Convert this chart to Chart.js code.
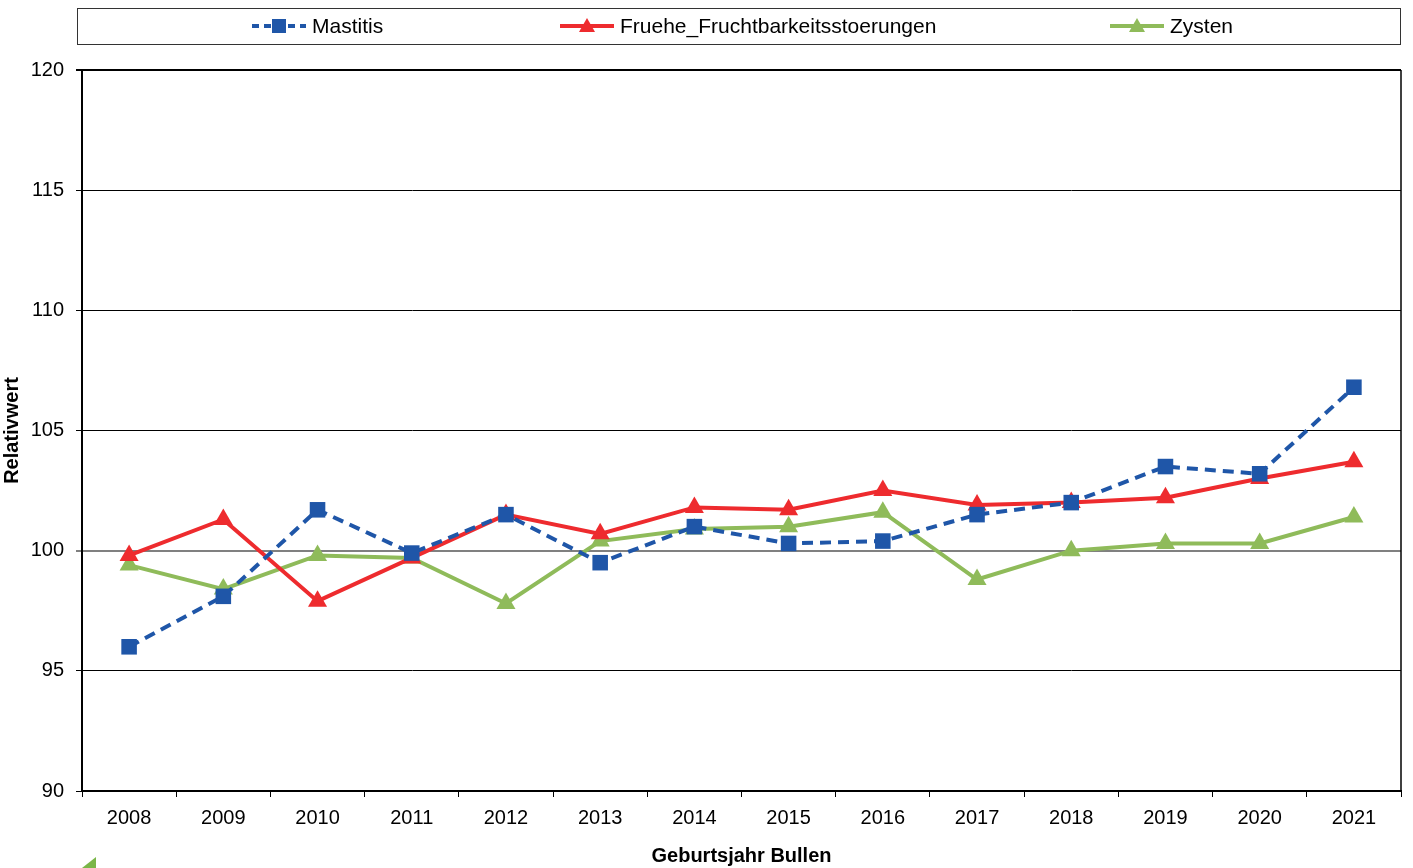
<!DOCTYPE html>
<html>
<head>
<meta charset="utf-8">
<script src="https://cdn.jsdelivr.net/npm/chart.js@4"></script>
<style>
  html, body { margin: 0; padding: 0; background: #fff; }
  #wrap { width: 1413px; height: 868px; }
</style>
</head>
<body>
<div id="wrap"><canvas id="myChart"></canvas></div>
<script>
// Daten
const years = ["2008", "2009", "2010", "2011", "2012", "2013", "2014", "2015", "2016", "2017", "2018", "2019", "2020", "2021"];
const mastitis = [96.0, 98.1, 101.7, 99.9, 101.5, 99.5, 101.0, 100.3, 100.4, 101.5, 102.0, 103.5, 103.2, 106.8];
const fruehe = [99.8, 101.3, 97.9, 99.7, 101.5, 100.7, 101.8, 101.7, 102.5, 101.9, 102.0, 102.2, 103.0, 103.7];
const zysten = [99.4, 98.4, 99.8, 99.7, 97.8, 100.4, 100.9, 101.0, 101.6, 98.8, 100.0, 100.3, 100.3, 101.4];
const seriesNames = ["Mastitis", "Fruehe_Fruchtbarkeitsstoerungen", "Zysten"];

const BLUE = "#1f56a8";
const RED = "#ee2b2e";
const GREEN = "#8fbb5a";
const FONT = "'Liberation Sans', Arial, sans-serif";

// Legende und Rahmen selbst zeichnen
const frame = {
    id: "frame",
    afterDraw(chart) {
        const ctx = chart.ctx;
        const a = chart.chartArea;
        ctx.save();
        // rechter Rand
        ctx.strokeStyle = "#000";
        ctx.lineWidth = 1.5;
        ctx.beginPath();
        ctx.moveTo(a.right, a.top);
        ctx.lineTo(a.right, a.bottom);
        ctx.stroke();

        // Legendenkasten
        ctx.lineWidth = 1;
        ctx.strokeStyle = "#333";
        ctx.strokeRect(77.5, 8.5, 1323, 36);

        const items = [
            { x: 252, color: BLUE, dash: [7, 5], style: "rect" },
            { x: 560, color: RED, dash: [], style: "triangle" },
            { x: 1110, color: GREEN, dash: [], style: "triangle" },
        ];
        const ly = 26;
        ctx.font = "21px " + FONT;
        ctx.textBaseline = "middle";
        items.forEach((it, i) => {
            ctx.strokeStyle = it.color;
            ctx.lineWidth = 4;
            ctx.setLineDash(it.dash);
            ctx.beginPath();
            ctx.moveTo(it.x, ly);
            ctx.lineTo(it.x + 54, ly);
            ctx.stroke();
            ctx.setLineDash([]);
            ctx.fillStyle = it.color;
            const cx = it.x + 27;
            if (it.style === "rect") {
                ctx.fillRect(cx - 7, ly - 7, 14, 14);
            } else {
                ctx.beginPath();
                ctx.moveTo(cx, ly - 8);
                ctx.lineTo(cx + 8, ly + 6);
                ctx.lineTo(cx - 8, ly + 6);
                ctx.closePath();
                ctx.fill();
            }
            ctx.fillStyle = "#000";
            ctx.fillText(seriesNames[i], it.x + 60, ly + 1);
        });

        // abgeschnittenes Logo unten links
        ctx.fillStyle = "#7ab648";
        ctx.beginPath();
        ctx.moveTo(82, 868);
        ctx.lineTo(96, 857);
        ctx.lineTo(96, 868);
        ctx.closePath();
        ctx.fill();
        ctx.restore();
    }
};

function initChart() {
    const ctx = document.getElementById("myChart").getContext("2d");
    new Chart(ctx, {
        type: "line",
        data: {
            labels: years,
            datasets: [
                {
                    label: seriesNames[0],
                    data: mastitis,
                    borderColor: BLUE,
                    backgroundColor: BLUE,
                    borderWidth: 4,
                    borderDash: [11, 7],
                    pointStyle: "rect",
                    pointRadius: 11,
                    pointBorderWidth: 0,
                    tension: 0,
                },
                {
                    label: seriesNames[1],
                    data: fruehe,
                    borderColor: RED,
                    backgroundColor: RED,
                    borderWidth: 4,
                    pointStyle: "triangle",
                    pointRadius: 11,
                    pointBorderWidth: 0,
                    tension: 0,
                },
                {
                    label: seriesNames[2],
                    data: zysten,
                    borderColor: GREEN,
                    backgroundColor: GREEN,
                    borderWidth: 4,
                    pointStyle: "triangle",
                    pointRadius: 11,
                    pointBorderWidth: 0,
                    tension: 0,
                },
            ],
        },
        options: {
            responsive: true,
            maintainAspectRatio: false,
            animation: false,
            layout: { padding: { top: 70, right: 12, left: 0, bottom: 0 } },
            plugins: {
                legend: { display: false },
                tooltip: { enabled: false },
            },
            scales: {
                x: {
                    offset: true,
                    grid: {
                        offset: true,
                        drawOnChartArea: false,
                        drawTicks: true,
                        tickLength: 6,
                        color: "#000",
                    },
                    border: { color: "#000", width: 2 },
                    ticks: {
                        color: "#000",
                        font: { family: FONT, size: 20 },
                        padding: 9,
                        maxRotation: 0,
                    },
                    title: {
                        display: true,
                        text: "Geburtsjahr Bullen",
                        color: "#000",
                        font: { family: FONT, size: 20, weight: "bold" },
                        padding: { top: 10, bottom: 0 },
                    },
                    afterFit(scale) { scale.height = 77; },
                },
                y: {
                    min: 90,
                    max: 120,
                    ticks: {
                        stepSize: 5,
                        color: "#000",
                        font: { family: FONT, size: 20 },
                        padding: 12,
                    },
                    grid: {
                        tickLength: 6,
                        color: (c) => (c.tick && c.tick.value === 100 ? "#808080" : "#000"),
                        lineWidth: (c) => {
                            if (!c.tick) return 1;
                            if (c.tick.value === 100) return 2;
                            if (c.tick.value === 120) return 2;
                            return 1;
                        },
                    },
                    border: { color: "#000", width: 2 },
                    title: {
                        display: true,
                        text: "Relativwert",
                        color: "#000",
                        font: { family: FONT, size: 20, weight: "bold" },
                        padding: { top: 0, bottom: 0 },
                    },
                    afterFit(scale) { scale.width = 82; },
                },
            },
        },
        plugins: [frame],
    });
}

window.onload = function () {
    initChart();
};
</script>
</body>
</html>
